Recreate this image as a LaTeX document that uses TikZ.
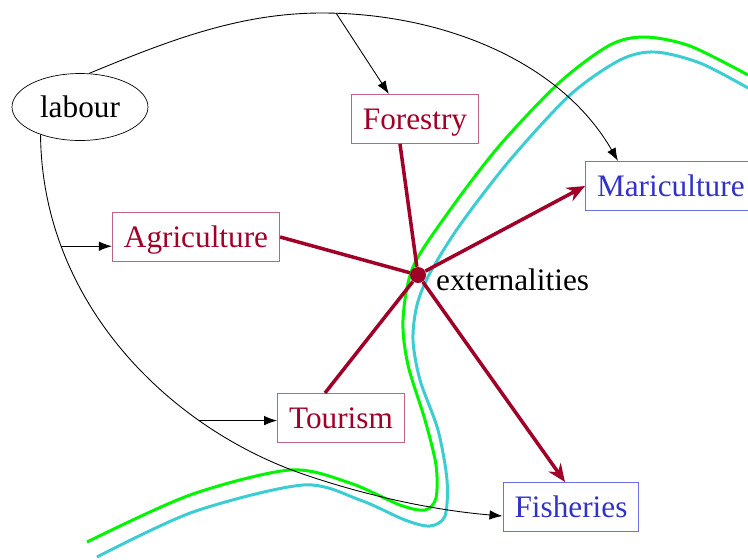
\documentclass[tikz,border=0pt]{standalone}
\usepackage{fontspec}
\setmainfont{Liberation Serif}
\usetikzlibrary{arrows.meta,shapes.geometric,positioning}
\definecolor{landred}{RGB}{160,0,40}
\definecolor{landframe}{RGB}{190,100,140}
\definecolor{seablue}{RGB}{50,50,200}
\definecolor{seaframe}{RGB}{110,110,230}
\definecolor{coastgreen}{RGB}{0,245,0}
\definecolor{coastcyan}{RGB}{60,205,210}

\begin{document}
\begin{tikzpicture}[x=0.02cm,y=-0.02cm,
  every node/.style={font=\fontsize{17.8pt}{21pt}\selectfont},
  sector/.style={rectangle,draw=landframe,text=landred,line width=0.6pt,
    inner xsep=0.23cm,inner ysep=0.15cm,text height=0.55cm,text depth=0.13cm},
  marine/.style={sector,draw=seaframe,text=seablue},
  impact/.style={draw=landred,line width=2pt},
  flow/.style={->,>={Latex[length=0.26cm,width=0.19cm]},line width=0.5pt},
  coast/.style={line width=1.7pt}]
	\useasboundingbox (0,0) rectangle (748,559);
	% coastlines
	\draw[coast,coastcyan] plot[smooth] coordinates {(97,557) (193,512) (303,485) (360,500) (405,520) (430,526) (445,516) (447,480) (438,430) (420,380) (413,340) (417,305) (430,273) (460,225) (510,160) (570,95) (620,60) (655,52) (700,63) (748,88)};
	\draw[coast,coastgreen] plot[smooth] coordinates {(87,542) (190,495) (290,470) (350,483) (400,505) (425,510) (436,498) (436,465) (425,420) (408,365) (403,320) (413,267) (450,210) (500,145) (560,82) (610,45) (645,37) (690,46) (748,75)};
	\node[ellipse,draw,minimum width=2.72cm,minimum height=1.34cm,inner sep=0pt] (labour) at (80,107) {labour};
	\node[sector] (forestry) at (415,119) {Forestry};
	\node[sector] (agriculture) at (196,237) {Agriculture};
	\node[sector] (tourism) at (341,418) {Tourism};
	\node[marine,anchor=west] (mariculture) at (585,186) {Mariculture};
	\node[marine] (fisheries) at (571,507) {Fisheries};
	\node[circle,fill=landred,minimum size=0.32cm,inner sep=0pt] (hub) at (418,275) {};
	\node[anchor=base west] (ext_label) at (430,290) {externalities};
	% labour flows
	\draw[flow] (labour.75) .. controls (170,40) and (240,13) .. (322,13)
	  .. controls (440,13) and (560,60) .. ([xshift=0.66cm]mariculture.north west) coordinate[pos=0.04] (forest_split);
	\draw[flow] (forest_split) -- ([xshift=0.76cm]forestry.north west);
	\draw[flow] (labour.215) .. controls (42,300) and (165,425) .. (300,473) coordinate[pos=0.24] (agri_split) coordinate[pos=0.74] (tour_split)
	  .. controls (360,494) and (430,510) .. ([yshift=-0.18cm]fisheries.west);
	\draw[flow] (agri_split) -- (agri_split -| agriculture.west);
	\draw[flow] (tour_split) -- (tour_split -| tourism.west);
	% externalities
	\path[impact]
	(hub) edge ([xshift=-0.3cm]forestry.south)
	edge (agriculture.east)
	edge ([xshift=-0.32cm]tourism.north)
	edge[-{Stealth[length=0.36cm,width=0.3cm]}] (mariculture.west)
	edge[-{Stealth[length=0.36cm,width=0.3cm]}] ([xshift=-0.12cm]fisheries.north);
\end{tikzpicture}
\end{document}
